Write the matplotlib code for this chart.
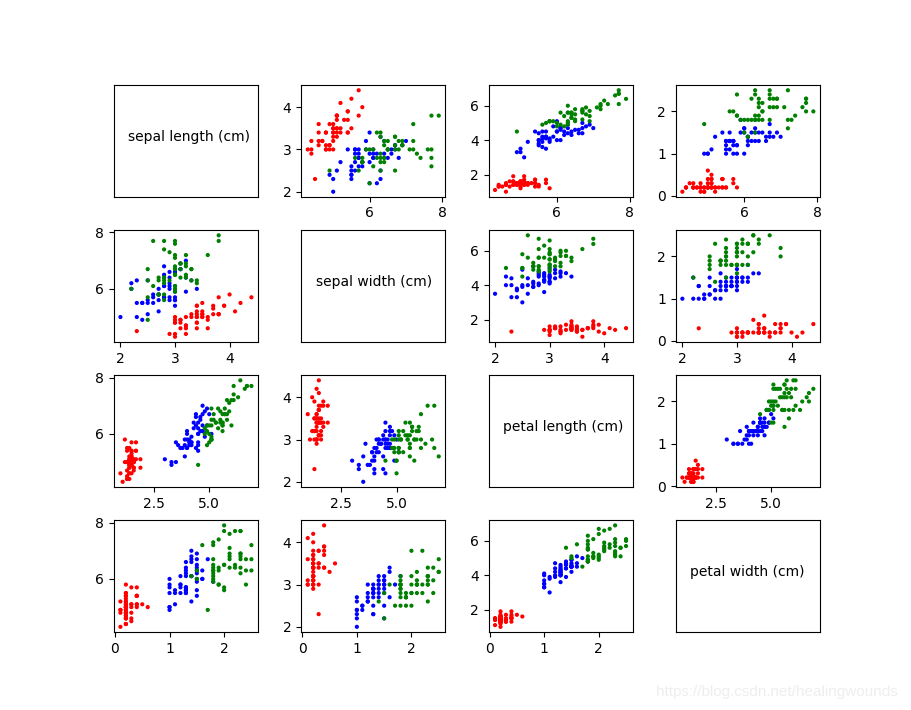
import numpy as np
import matplotlib
matplotlib.use("Agg")
import matplotlib.pyplot as plt

feature_names = ["sepal length (cm)", "sepal width (cm)",
                 "petal length (cm)", "petal width (cm)"]

sepal_length = [5.1, 4.9, 4.7, 4.6, 5.0, 5.4, 4.6, 5.0, 4.4, 4.9, 5.4, 4.8, 4.8, 4.3, 5.8, 5.7, 5.4, 5.1, 5.7, 5.1,
                5.4, 5.1, 4.6, 5.1, 4.8, 5.0, 5.0, 5.2, 5.2, 4.7, 4.8, 5.4, 5.2, 5.5, 4.9, 5.0, 5.5, 4.9, 4.4, 5.1,
                5.0, 4.5, 4.4, 5.0, 5.1, 4.8, 5.1, 4.6, 5.3, 5.0,
                7.0, 6.4, 6.9, 5.5, 6.5, 5.7, 6.3, 4.9, 6.6, 5.2, 5.0, 5.9, 6.0, 6.1, 5.6, 6.7, 5.6, 5.8, 6.2, 5.6,
                5.9, 6.1, 6.3, 6.1, 6.4, 6.6, 6.8, 6.7, 6.0, 5.7, 5.5, 5.5, 5.8, 6.0, 5.4, 6.0, 6.7, 6.3, 5.6, 5.5,
                5.5, 6.1, 5.8, 5.0, 5.6, 5.7, 5.7, 6.2, 5.1, 5.7,
                6.3, 5.8, 7.1, 6.3, 6.5, 7.6, 4.9, 7.3, 6.7, 7.2, 6.5, 6.4, 6.8, 5.7, 5.8, 6.4, 6.5, 7.7, 7.7, 6.0,
                6.9, 5.6, 7.7, 6.3, 6.7, 7.2, 6.2, 6.1, 6.4, 7.2, 7.4, 7.9, 6.4, 6.3, 6.1, 7.7, 6.3, 6.4, 6.0, 6.9,
                6.7, 6.9, 5.8, 6.8, 6.7, 6.7, 6.3, 6.5, 6.2, 5.9]
sepal_width = [3.5, 3.0, 3.2, 3.1, 3.6, 3.9, 3.4, 3.4, 2.9, 3.1, 3.7, 3.4, 3.0, 3.0, 4.0, 4.4, 3.9, 3.5, 3.8, 3.8,
               3.4, 3.7, 3.6, 3.3, 3.4, 3.0, 3.4, 3.5, 3.4, 3.2, 3.1, 3.4, 4.1, 4.2, 3.1, 3.2, 3.5, 3.6, 3.0, 3.4,
               3.5, 2.3, 3.2, 3.5, 3.8, 3.0, 3.8, 3.2, 3.7, 3.3,
               3.2, 3.2, 3.1, 2.3, 2.8, 2.8, 3.3, 2.4, 2.9, 2.7, 2.0, 3.0, 2.2, 2.9, 2.9, 3.1, 3.0, 2.7, 2.2, 2.5,
               3.2, 2.8, 2.5, 2.8, 2.9, 3.0, 2.8, 3.0, 2.9, 2.6, 2.4, 2.4, 2.7, 2.7, 3.0, 3.4, 3.1, 2.3, 3.0, 2.5,
               2.6, 3.0, 2.6, 2.3, 2.7, 3.0, 2.9, 2.9, 2.5, 2.8,
               3.3, 2.7, 3.0, 2.9, 3.0, 3.0, 2.5, 2.9, 2.5, 3.6, 3.2, 2.7, 3.0, 2.5, 2.8, 3.2, 3.0, 3.8, 2.6, 2.2,
               3.2, 2.8, 2.8, 2.7, 3.3, 3.2, 2.8, 3.0, 2.8, 3.0, 2.8, 3.8, 2.8, 2.8, 2.6, 3.0, 3.4, 3.1, 3.0, 3.1,
               3.1, 3.1, 2.7, 3.2, 3.3, 3.0, 2.5, 3.0, 3.4, 3.0]
petal_length = [1.4, 1.4, 1.3, 1.5, 1.4, 1.7, 1.4, 1.5, 1.4, 1.5, 1.5, 1.6, 1.4, 1.1, 1.2, 1.5, 1.3, 1.4, 1.7, 1.5,
                1.7, 1.5, 1.0, 1.7, 1.9, 1.6, 1.6, 1.5, 1.4, 1.6, 1.6, 1.5, 1.5, 1.4, 1.5, 1.2, 1.3, 1.4, 1.3, 1.5,
                1.3, 1.3, 1.3, 1.6, 1.9, 1.4, 1.6, 1.4, 1.5, 1.4,
                4.7, 4.5, 4.9, 4.0, 4.6, 4.5, 4.7, 3.3, 4.6, 3.9, 3.5, 4.2, 4.0, 4.7, 3.6, 4.4, 4.5, 4.1, 4.5, 3.9,
                4.8, 4.0, 4.9, 4.7, 4.3, 4.4, 4.8, 5.0, 4.5, 3.5, 3.8, 3.7, 3.9, 5.1, 4.5, 4.5, 4.7, 4.4, 4.1, 4.0,
                4.4, 4.6, 4.0, 3.3, 4.2, 4.2, 4.2, 4.3, 3.0, 4.1,
                6.0, 5.1, 5.9, 5.6, 5.8, 6.6, 4.5, 6.3, 5.8, 6.1, 5.1, 5.3, 5.5, 5.0, 5.1, 5.3, 5.5, 6.7, 6.9, 5.0,
                5.7, 4.9, 6.7, 4.9, 5.7, 6.0, 4.8, 4.9, 5.6, 5.8, 6.1, 6.4, 5.6, 5.1, 5.6, 6.1, 5.6, 5.5, 4.8, 5.4,
                5.6, 5.1, 5.1, 5.9, 5.7, 5.2, 5.0, 5.2, 5.4, 5.1]
petal_width = [0.2, 0.2, 0.2, 0.2, 0.2, 0.4, 0.3, 0.2, 0.2, 0.1, 0.2, 0.2, 0.1, 0.1, 0.2, 0.4, 0.4, 0.3, 0.3, 0.3,
               0.2, 0.4, 0.2, 0.5, 0.2, 0.2, 0.4, 0.2, 0.2, 0.2, 0.2, 0.4, 0.1, 0.2, 0.2, 0.2, 0.2, 0.1, 0.2, 0.2,
               0.3, 0.3, 0.2, 0.6, 0.4, 0.3, 0.2, 0.2, 0.2, 0.2,
               1.4, 1.5, 1.5, 1.3, 1.5, 1.3, 1.6, 1.0, 1.3, 1.4, 1.0, 1.5, 1.0, 1.4, 1.3, 1.4, 1.5, 1.0, 1.5, 1.1,
               1.8, 1.3, 1.5, 1.2, 1.3, 1.4, 1.4, 1.7, 1.5, 1.0, 1.1, 1.0, 1.2, 1.6, 1.5, 1.6, 1.5, 1.3, 1.3, 1.3,
               1.2, 1.4, 1.2, 1.0, 1.3, 1.2, 1.3, 1.3, 1.1, 1.3,
               2.5, 1.9, 2.1, 1.8, 2.2, 2.1, 1.7, 1.8, 1.8, 2.5, 2.0, 1.9, 2.1, 2.0, 2.4, 2.3, 1.8, 2.2, 2.3, 1.5,
               2.3, 2.0, 2.0, 1.8, 2.1, 1.8, 1.8, 1.8, 2.1, 1.6, 1.9, 2.0, 2.2, 1.5, 1.4, 2.3, 2.4, 1.8, 1.8, 2.1,
               2.4, 2.3, 1.9, 2.3, 2.5, 2.3, 1.9, 2.0, 2.3, 1.8]
target = [0] * 50 + [1] * 50 + [2] * 50
class_colors = ["red", "blue", "green"]
sepal_length_yticks = [6, 8]

X = np.array([sepal_length, sepal_width, petal_length, petal_width]).T
colors = [class_colors[t] for t in target]

fig, axes = plt.subplots(4, 4, figsize=(9.11, 7.1), dpi=100)
plt.subplots_adjust(wspace=0.3, hspace=0.3)
for i in range(4):
    for j in range(4):
        ax = axes[i, j]
        if i == j:
            ax.text(0.1, 0.5, feature_names[i], transform=ax.transAxes)
            ax.set_xticks([])
            ax.set_yticks([])
        else:
            ax.scatter(X[:, i], X[:, j], c=colors, s=4)
            if j == 0:
                ax.set_yticks(sepal_length_yticks)

fig.text(0.986, 0.015, "https://blog.csdn.net/healingwounds", ha="right",
         va="bottom", color="#eeeeee", fontsize=11, family="Liberation Sans")
plt.savefig("out.png")
